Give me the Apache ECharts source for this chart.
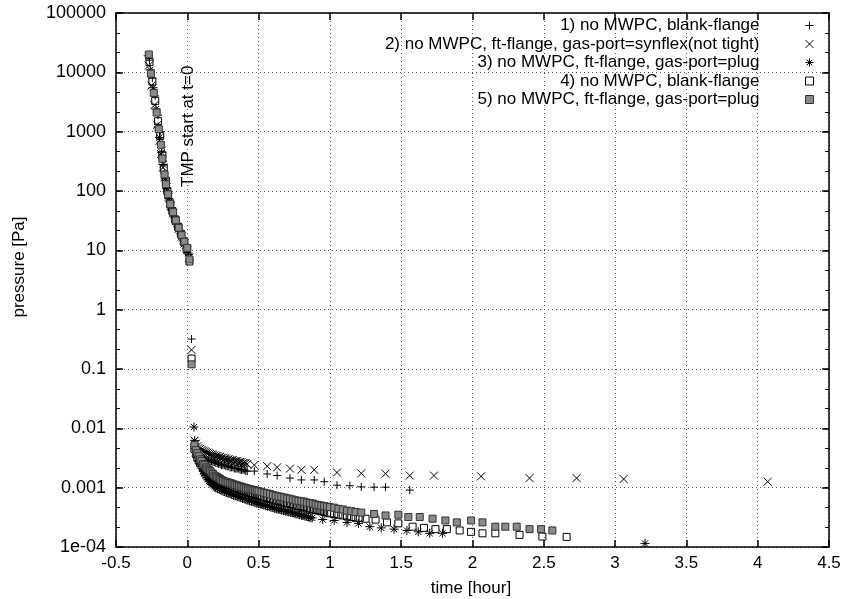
<!DOCTYPE html>
<html>
<head>
<meta charset="UTF-8">
<title>pressure vs time</title>
<style>
  html, body { margin: 0; padding: 0; background: #fff; }
  #chart { width: 844px; height: 599px; }
</style>
<script src="https://cdn.jsdelivr.net/npm/echarts@6/dist/echarts.min.js"></script>
</head>
<body>
<div id="chart"></div>
<script>
// legend labels, one per run
const runNames = [
  '1) no MWPC, blank-flange',
  '2) no MWPC, ft-flange, gas-port=synflex(not tight)',
  '3) no MWPC, ft-flange, gas-port=plug',
  '4) no MWPC, blank-flange',
  '5) no MWPC, ft-flange, gas-port=plug'
];

const xTicks = [-0.5, 4.5, 0.5];   // min, max, step  [hour]
const yDecades = [-4, 5];          // 1e-04 .. 100000 [Pa]

// [time hour, pressure Pa]
const run1 = [
  [-0.265, 16000], [-0.245, 8000], [-0.225, 4000], [-0.205, 1900], [-0.19, 1000], [-0.18, 550],
  [-0.17, 320], [-0.16, 200], [-0.15, 140], [-0.14, 95], [-0.125, 65], [-0.11, 48], [-0.09, 36],
  [-0.07, 27], [-0.05, 21], [-0.03, 16], [-0.01, 12], [0.01, 8.5],
  [0.03, 0.32],
  [0.05, 0.0045], [0.06, 0.004], [0.07, 0.0037], [0.08, 0.0035], [0.09, 0.0034], [0.1, 0.0033],
  [0.11, 0.0032], [0.12, 0.0031], [0.13, 0.003], [0.14, 0.0029], [0.15, 0.0029], [0.16, 0.0028],
  [0.17, 0.0028], [0.18, 0.0027], [0.19, 0.0027], [0.2, 0.0026], [0.21, 0.0026], [0.22, 0.0025],
  [0.23, 0.0025], [0.24, 0.0024], [0.25, 0.0024], [0.26, 0.0024], [0.27, 0.0023], [0.28, 0.0023],
  [0.29, 0.0023], [0.3, 0.0022], [0.31, 0.0022], [0.32, 0.0022], [0.33, 0.0021], [0.34, 0.0021],
  [0.35, 0.0021], [0.36, 0.0021], [0.37, 0.002], [0.38, 0.002], [0.39, 0.002], [0.4, 0.002],
  [0.41, 0.0019], [0.42, 0.0019],
  [0.47, 0.0019], [0.56, 0.0017], [0.63, 0.0016], [0.72, 0.00145], [0.80, 0.00135], [0.89, 0.00135],
  [0.96, 0.00126], [1.05, 0.0011], [1.14, 0.00108], [1.22, 0.00103], [1.31, 0.00102], [1.39, 0.00102],
  [1.56, 0.00091]
];
const run2 = [
  [-0.27, 13000], [-0.25, 6000], [-0.23, 2800], [-0.21, 1300], [-0.195, 700], [-0.185, 420],
  [-0.17, 250], [-0.16, 170], [-0.145, 115], [-0.13, 80], [-0.115, 56], [-0.1, 42], [-0.08, 31],
  [-0.06, 23], [-0.04, 17], [-0.02, 13], [0.0, 10], [0.012, 7.5],
  [0.03, 0.21],
  [0.05, 0.0062], [0.06, 0.0055], [0.07, 0.005], [0.08, 0.0047], [0.09, 0.0045], [0.1, 0.0043],
  [0.11, 0.0042], [0.12, 0.0041], [0.13, 0.004], [0.14, 0.0039], [0.15, 0.0038], [0.16, 0.0037],
  [0.17, 0.0036], [0.18, 0.0036], [0.19, 0.0035], [0.2, 0.0034], [0.21, 0.0034], [0.22, 0.0033],
  [0.23, 0.0033], [0.24, 0.0032], [0.25, 0.0032], [0.26, 0.0031], [0.27, 0.0031], [0.28, 0.003],
  [0.29, 0.003], [0.3, 0.0029], [0.31, 0.0029], [0.32, 0.0029], [0.33, 0.0028], [0.34, 0.0028],
  [0.35, 0.0028], [0.36, 0.0027], [0.37, 0.0027], [0.38, 0.0027], [0.39, 0.0026], [0.4, 0.0026],
  [0.41, 0.0026], [0.42, 0.0025],
  [0.47, 0.0024], [0.56, 0.0023], [0.63, 0.0022], [0.72, 0.0021], [0.80, 0.0020], [0.89, 0.0020],
  [1.05, 0.0018], [1.22, 0.00174], [1.39, 0.00172], [1.56, 0.0016], [1.73, 0.0016], [2.06, 0.00155],
  [2.40, 0.00145], [2.73, 0.00145], [3.06, 0.0014], [4.07, 0.00126]
];
const run3 = [
  [-0.275, 19000], [-0.26, 11000], [-0.24, 5500], [-0.22, 2400], [-0.205, 1200], [-0.195, 800],
  [-0.18, 450], [-0.17, 280], [-0.155, 160], [-0.145, 110], [-0.13, 75], [-0.115, 52], [-0.095, 38],
  [-0.075, 28], [-0.055, 21], [-0.035, 16], [-0.015, 12], [0.005, 9],
  [0.047, 0.0105],
  [0.052, 0.0062], [0.058, 0.005], [0.064, 0.0042], [0.07, 0.0037], [0.077, 0.0032], [0.084, 0.0028],
  [0.091, 0.0025], [0.098, 0.0023], [0.105, 0.0021], [0.112, 0.0019], [0.12, 0.0017], [0.128, 0.0016],
  [0.136, 0.0015], [0.144, 0.0014], [0.152, 0.0013], [0.16, 0.00125], [0.168, 0.0012], [0.176, 0.00115],
  [0.184, 0.0011], [0.192, 0.00105], [0.2, 0.001], [0.212, 0.00097], [0.225, 0.00094], [0.237, 0.00091],
  [0.25, 0.00088], [0.262, 0.00086], [0.275, 0.00083], [0.287, 0.00081], [0.3, 0.00079], [0.312, 0.00077],
  [0.325, 0.00075], [0.337, 0.00073], [0.35, 0.00071], [0.362, 0.0007], [0.375, 0.00068], [0.387, 0.00066],
  [0.4, 0.00065], [0.412, 0.00063], [0.425, 0.00062], [0.437, 0.0006], [0.45, 0.00059], [0.462, 0.00058],
  [0.475, 0.00056], [0.487, 0.00055], [0.5, 0.00054], [0.512, 0.00053], [0.525, 0.00052], [0.537, 0.00051],
  [0.55, 0.0005], [0.562, 0.00049], [0.575, 0.00048], [0.587, 0.00047], [0.6, 0.00046], [0.612, 0.00045],
  [0.625, 0.00044], [0.637, 0.00043], [0.65, 0.00043], [0.662, 0.00042], [0.675, 0.00041], [0.687, 0.0004],
  [0.7, 0.0004], [0.712, 0.00039], [0.725, 0.00038], [0.737, 0.00038], [0.75, 0.00037], [0.762, 0.00036],
  [0.775, 0.00036], [0.787, 0.00035], [0.8, 0.00034], [0.812, 0.00034], [0.825, 0.00033], [0.837, 0.00033],
  [0.85, 0.00032], [0.862, 0.00031], [0.875, 0.00031],
  [0.95, 0.00029], [1.03, 0.00028], [1.12, 0.00026], [1.20, 0.00025], [1.28, 0.00022], [1.36, 0.00021],
  [1.45, 0.0002], [1.54, 0.00019], [1.62, 0.00018], [1.70, 0.00017], [1.79, 0.00017],
  [3.21, 0.000115]
];
const run4 = [
  [-0.265, 15000], [-0.245, 7000], [-0.225, 3300], [-0.205, 1500], [-0.19, 850], [-0.175, 400],
  [-0.165, 240], [-0.15, 150], [-0.14, 100], [-0.12, 62], [-0.105, 46], [-0.085, 33], [-0.065, 25],
  [-0.045, 19], [-0.025, 14], [-0.005, 10.5], [0.015, 6.5],
  [0.03, 0.15],
  [0.05, 0.0045], [0.06, 0.0037], [0.07, 0.0032], [0.08, 0.0029], [0.09, 0.0026], [0.1, 0.0024],
  [0.11, 0.0022], [0.12, 0.002], [0.13, 0.0019], [0.14, 0.0018], [0.15, 0.0017], [0.16, 0.0016],
  [0.17, 0.0015], [0.18, 0.00145], [0.19, 0.0014], [0.2, 0.00135], [0.21, 0.0013], [0.22, 0.00125],
  [0.23, 0.0012], [0.24, 0.00117], [0.25, 0.00115], [0.262, 0.00112], [0.275, 0.0011], [0.287, 0.00107],
  [0.3, 0.00104], [0.312, 0.00101], [0.325, 0.00099], [0.337, 0.00097], [0.35, 0.00094], [0.362, 0.00092],
  [0.375, 0.0009], [0.387, 0.00088], [0.4, 0.00086], [0.412, 0.00084], [0.425, 0.00082], [0.437, 0.0008],
  [0.45, 0.00079], [0.462, 0.00077], [0.475, 0.00076], [0.487, 0.00074], [0.5, 0.00073], [0.52, 0.00071],
  [0.54, 0.00069], [0.56, 0.00067], [0.58, 0.00065], [0.6, 0.00063], [0.62, 0.00061], [0.64, 0.0006],
  [0.66, 0.00058], [0.68, 0.00056], [0.7, 0.00055], [0.72, 0.00053], [0.74, 0.00052], [0.76, 0.0005],
  [0.78, 0.00049], [0.8, 0.00048], [0.82, 0.00047], [0.84, 0.00045], [0.86, 0.00044], [0.88, 0.00043],
  [0.9, 0.00042], [0.92, 0.00041], [0.94, 0.0004], [0.96, 0.00039], [0.98, 0.00038], [1.0, 0.00037],
  [1.03, 0.00036], [1.06, 0.00035], [1.09, 0.00034], [1.12, 0.00033], [1.15, 0.00032], [1.18, 0.00031],
  [1.21, 0.00031], [1.25, 0.0003],
  [1.32, 0.00029], [1.40, 0.00026], [1.48, 0.00025], [1.58, 0.00022], [1.66, 0.00021], [1.74, 0.0002],
  [1.82, 0.0002], [1.91, 0.00019], [1.99, 0.00018], [2.07, 0.00017], [2.16, 0.00017], [2.33, 0.00016],
  [2.49, 0.00015], [2.66, 0.000148]
];
const run5 = [
  [-0.27, 20000], [-0.255, 9500], [-0.235, 4500], [-0.215, 2100], [-0.2, 1100], [-0.185, 600],
  [-0.175, 350], [-0.16, 190], [-0.15, 130], [-0.135, 88], [-0.12, 60], [-0.1, 44], [-0.08, 32],
  [-0.06, 24], [-0.04, 18], [-0.02, 14], [0.0, 11], [0.015, 7],
  [0.03, 0.12],
  [0.05, 0.0052], [0.06, 0.0043], [0.07, 0.0038], [0.08, 0.0034], [0.09, 0.003], [0.1, 0.0028],
  [0.11, 0.0025], [0.12, 0.0024], [0.13, 0.0022], [0.14, 0.0021], [0.15, 0.002], [0.16, 0.0019],
  [0.17, 0.0018], [0.18, 0.0017], [0.19, 0.0016], [0.2, 0.00155], [0.21, 0.0015], [0.22, 0.00145],
  [0.23, 0.0014], [0.24, 0.00135], [0.25, 0.0013], [0.262, 0.00127], [0.275, 0.00125], [0.287, 0.00122],
  [0.3, 0.0012], [0.312, 0.00117], [0.325, 0.00114], [0.337, 0.00111], [0.35, 0.00109], [0.362, 0.00106],
  [0.375, 0.00104], [0.387, 0.00102], [0.4, 0.001], [0.412, 0.00098], [0.425, 0.00096], [0.437, 0.00094],
  [0.45, 0.00093], [0.462, 0.00091], [0.475, 0.0009], [0.487, 0.00088], [0.5, 0.00087], [0.52, 0.00085],
  [0.54, 0.00082], [0.56, 0.0008], [0.58, 0.00078], [0.6, 0.00075], [0.62, 0.00073], [0.64, 0.00071],
  [0.66, 0.0007], [0.68, 0.00068], [0.7, 0.00066], [0.72, 0.00065], [0.74, 0.00063], [0.76, 0.00061],
  [0.78, 0.0006], [0.8, 0.00059], [0.82, 0.00058], [0.84, 0.00056], [0.86, 0.00055], [0.88, 0.00054],
  [0.9, 0.00052], [0.92, 0.00051], [0.94, 0.0005], [0.96, 0.00049], [0.98, 0.00048], [1.0, 0.00047],
  [1.03, 0.00046], [1.06, 0.00044], [1.09, 0.00043], [1.12, 0.00041], [1.15, 0.0004], [1.18, 0.00039],
  [1.22, 0.00038], [1.31, 0.00036], [1.39, 0.00034], [1.48, 0.00035], [1.55, 0.00032], [1.63, 0.00032],
  [1.72, 0.0003], [1.81, 0.00028], [1.89, 0.00026], [1.99, 0.00028], [2.07, 0.00026], [2.16, 0.00022],
  [2.23, 0.00022], [2.31, 0.00022], [2.40, 0.0002], [2.48, 0.0002], [2.56, 0.00019]
];

const runs = [run1, run2, run3, run4, run5];

// gnuplot-like point types
const pointTypes = [
  { symbol: 'path://M0,5L10,5M5,0L5,10', size: 8, fill: 'rgba(0,0,0,0)', stroke: '#000' },
  { symbol: 'path://M0,0L10,10M10,0L0,10', size: 8, fill: 'rgba(0,0,0,0)', stroke: '#000' },
  { symbol: 'path://M0,5L10,5M5,0L5,10M1.5,1.5L8.5,8.5M8.5,1.5L1.5,8.5', size: 9, fill: 'rgba(0,0,0,0)', stroke: '#000' },
  { symbol: 'path://M0,0L10,0L10,10L0,10Z', size: 7, fill: 'rgba(0,0,0,0)', stroke: '#000' },
  { symbol: 'rect', size: 7, fill: '#8a8a8a', stroke: '#333' }
];

const FONT = 'Liberation Sans, Arial, Helvetica, sans-serif';

function fmtPa(v) {
  const e = Math.round(Math.log10(v));
  if (e <= -4) return '1e-0' + (-e);
  if (e >= 0) return String(Math.pow(10, e));
  return Math.pow(10, e).toFixed(-e);
}

const gridLine = { show: true, lineStyle: { color: '#555', width: 1, type: [1, 3] } };
const axisLine = { show: true, onZero: false, lineStyle: { color: '#000', width: 1.5 } };
const majorTick = { show: true, inside: true, length: 7, lineStyle: { color: '#000', width: 1.5 } };

// minor ticks on the log axes: plain value axes over the decade exponents
function minorAxis(pos) {
  return {
    type: 'value', position: pos,
    min: yDecades[0], max: yDecades[1], interval: 1 / 3,
    axisLine: { show: false, onZero: false },
    axisTick: { show: true, inside: true, length: 4, lineStyle: { color: '#000', width: 1 } },
    axisLabel: { show: false },
    splitLine: { show: false }
  };
}

const chart = echarts.init(document.getElementById('chart'));

chart.setOption({
  animation: false,
  backgroundColor: '#fff',
  textStyle: { fontFamily: FONT },
  grid: { left: 116, right: 15, top: 13, bottom: 52 },
  legend: {
    orient: 'vertical',
    align: 'right',
    right: 30,
    top: 17,
    padding: 0,
    itemGap: 1.5,
    itemWidth: 8,
    itemHeight: 8,
    selectedMode: false,
    data: runNames,
    itemStyle: { borderWidth: 1 },
    formatter: name => '{t|' + name + '}',
    textStyle: {
      color: '#000', fontSize: 17, fontFamily: FONT,
      rich: { t: { fontSize: 17, fontFamily: FONT, color: '#000', padding: [0, 41, 0, 0] } }
    }
  },
  xAxis: [{
    type: 'value',
    min: xTicks[0], max: xTicks[1], interval: xTicks[2],
    axisLine: axisLine,
    axisTick: majorTick,
    axisLabel: { color: '#000', fontSize: 17, fontFamily: FONT, margin: 8, showMinLabel: true, showMaxLabel: true },
    splitLine: gridLine
  }, {
    type: 'value', position: 'top',
    min: xTicks[0], max: xTicks[1], interval: xTicks[2],
    axisLine: axisLine,
    axisTick: majorTick,
    axisLabel: { show: false },
    splitLine: { show: false }
  }],
  yAxis: [{
    type: 'log', logBase: 10,
    min: Math.pow(10, yDecades[0]), max: Math.pow(10, yDecades[1]), interval: 1,
    axisLine: axisLine,
    axisTick: majorTick,
    axisLabel: { color: '#000', fontSize: 18, fontFamily: FONT, margin: 10, formatter: fmtPa, showMinLabel: true, showMaxLabel: true },
    splitLine: gridLine
  }, {
    type: 'log', logBase: 10, position: 'right',
    min: Math.pow(10, yDecades[0]), max: Math.pow(10, yDecades[1]), interval: 1,
    axisLine: axisLine,
    axisTick: majorTick,
    axisLabel: { show: false },
    splitLine: { show: false }
  }, minorAxis('left'), minorAxis('right')],
  series: runs.map((data, i) => ({
    name: runNames[i],
    type: 'scatter',
    data: data,
    symbol: pointTypes[i].symbol,
    symbolSize: pointTypes[i].size,
    itemStyle: { color: pointTypes[i].fill, borderColor: pointTypes[i].stroke, borderWidth: 1, opacity: 1 },
    emphasis: { disabled: true }
  })),
  graphic: [{
    type: 'text',
    x: 188, y: 187,
    rotation: Math.PI / 2,
    style: {
      text: 'TMP start at t=0',
      fontSize: 17, fontFamily: FONT, fill: '#000',
      align: 'left', verticalAlign: 'middle'
    }
  }, {
    type: 'text',
    x: 19, y: 267,
    rotation: Math.PI / 2,
    style: {
      text: 'pressure [Pa]',
      fontSize: 17, fontFamily: FONT, fill: '#000',
      align: 'center', verticalAlign: 'middle'
    }
  }, {
    type: 'text',
    x: 471, y: 588,
    style: {
      text: 'time [hour]',
      fontSize: 17, fontFamily: FONT, fill: '#000',
      align: 'center', verticalAlign: 'middle'
    }
  }]
});
</script>
</body>
</html>
